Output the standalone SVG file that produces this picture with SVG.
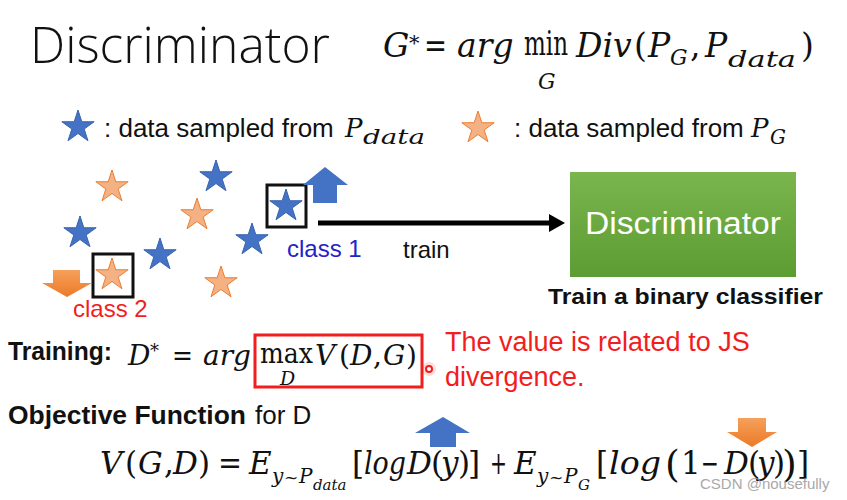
<svg xmlns="http://www.w3.org/2000/svg" width="847" height="500" viewBox="0 0 847 500">
<style>
.sans{font-family:"Liberation Sans",Arial,sans-serif;fill:#111}
.light{font-family:"Open Sans","Liberation Sans",Arial,sans-serif;font-weight:300;fill:#111}
.bold{font-family:"Liberation Sans",Arial,sans-serif;font-weight:bold;fill:#111}
.m{font-family:"DejaVu Serif","Liberation Serif",serif;fill:#111}
.i{font-style:italic}
.red{fill:#f21d1d}
.bstar{fill:#4472c4;stroke:#3863b0;stroke-width:1}
.ostar{fill:#f4b183;stroke:#ed7d31;stroke-width:1}
.box{fill:none;stroke:#111;stroke-width:3}
</style>
<defs>
<path id="star" d="M0,-17 L3.82,-5.26 L16.17,-5.25 L6.18,2.01 L9.99,13.75 L0,6.5 L-9.99,13.75 L-6.18,2.01 L-16.17,-5.25 L-3.82,-5.26 Z"/>
<linearGradient id="green" x1="0" y1="0" x2="0" y2="1">
<stop offset="0" stop-color="#7ab64d"/>
<stop offset="1" stop-color="#5c9c33"/>
</linearGradient>
<linearGradient id="orangeArrow" x1="0" y1="0" x2="0" y2="1">
<stop offset="0" stop-color="#f5a05a"/>
<stop offset="1" stop-color="#ec7a28"/>
</linearGradient>
</defs>
<rect width="847" height="500" fill="#fff"/>

<g id="title">
<text class="light" x="30" y="63" font-size="50" textLength="300" lengthAdjust="spacingAndGlyphs">Discriminator</text>
</g>

<g id="formula-g">
<text class="m" font-size="33" y="57"><tspan class="i" x="383">G</tspan><tspan x="409" y="50" font-size="21">*</tspan></text>
<text class="m" x="424" y="57" font-size="33" textLength="23" lengthAdjust="spacingAndGlyphs">=</text>
<text class="m i" x="457" y="57" font-size="33">arg</text>
<text class="m" x="524" y="55" font-size="33" textLength="44" lengthAdjust="spacingAndGlyphs">min</text>
<text class="m i" x="538" y="89" font-size="22">G</text>
<text class="m" font-size="33" y="57"><tspan class="i" x="576">Div</tspan><tspan x="634">(</tspan><tspan class="i" x="648">P</tspan><tspan class="i" x="670" y="65" font-size="22">G</tspan><tspan x="690" y="57">,</tspan><tspan class="i" x="705">P</tspan></text>
<text class="m i" x="728" y="67" font-size="23" textLength="68" lengthAdjust="spacingAndGlyphs">data</text>
<text class="m" x="801" y="57" font-size="33">)</text>
</g>

<g id="legend-data">
<use href="#star" class="bstar" x="78" y="127"/>
<text class="sans" x="104" y="137" font-size="26">: data sampled from</text>
<text class="m i" x="345" y="137" font-size="26">P</text>
<text class="m i" x="363" y="144" font-size="20" textLength="62" lengthAdjust="spacingAndGlyphs">data</text>
</g>

<g id="legend-g">
<use href="#star" class="ostar" x="478" y="128"/>
<text class="sans" x="514" y="137" font-size="26">: data sampled from</text>
<text class="m i" font-size="26" y="137"><tspan x="751">P</tspan><tspan x="770" y="144" font-size="20">G</tspan></text>
</g>

<g id="samples">
<use href="#star" class="ostar" x="112" y="187"/>
<use href="#star" class="bstar" x="216" y="177"/>
<use href="#star" class="ostar" x="197" y="215"/>
<use href="#star" class="bstar" x="80" y="233"/>
<use href="#star" class="bstar" x="160" y="255"/>
<use href="#star" class="bstar" x="252" y="240"/>
<use href="#star" class="ostar" x="221" y="283"/>
</g>

<g id="class1">
<use href="#star" class="bstar" x="286" y="206"/>
<rect class="box" x="267" y="185" width="39" height="42"/>
<polygon points="325,167 348,185 337,185 337,203 313,203 313,185 303,185" fill="#4472c4"/>
<text class="sans" x="287" y="257" font-size="24" style="fill:#2323c8">class 1</text>
</g>

<g id="class2">
<use href="#star" class="ostar" x="112" y="275"/>
<rect class="box" x="93" y="254" width="40" height="43"/>
<polygon points="53,270 80,270 80,283 92,283 67,297 42,283 53,283" fill="url(#orangeArrow)"/>
<text class="sans red" x="73" y="317" font-size="24">class 2</text>
</g>

<g id="connectors">
<line x1="318" y1="223" x2="552" y2="223" stroke="#000" stroke-width="5"/>
<polygon points="565,223 549,214 549,232" fill="#000"/>
<text class="sans" x="403" y="258" font-size="24">train</text>
</g>

<g id="discriminator">
<rect x="570" y="172" width="226" height="105" fill="url(#green)"/>
<text class="sans" x="683" y="234" font-size="31" text-anchor="middle" style="fill:#fff" textLength="196" lengthAdjust="spacingAndGlyphs">Discriminator</text>
<text class="bold" x="548" y="304" font-size="22.5" textLength="275" lengthAdjust="spacingAndGlyphs">Train a binary classifier</text>
</g>

<g id="training">
<text class="bold" x="8" y="360" font-size="25" textLength="104" lengthAdjust="spacingAndGlyphs">Training:</text>
<text class="m" font-size="28" y="365"><tspan class="i" x="128">D</tspan><tspan x="150" y="357" font-size="18">*</tspan></text>
<text class="m" x="172" y="365" font-size="28" textLength="21" lengthAdjust="spacingAndGlyphs">=</text>
<text class="m i" x="203" y="365" font-size="28" textLength="48" lengthAdjust="spacingAndGlyphs">arg</text>
<rect x="255" y="335" width="167" height="52" fill="none" stroke="#f21d1d" stroke-width="3"/>
<text class="m" x="260" y="363" font-size="28" textLength="53" lengthAdjust="spacingAndGlyphs">max</text>
<text class="m i" x="280" y="385" font-size="19">D</text>
<text class="m" font-size="28" y="365"><tspan class="i" x="315">V</tspan><tspan x="339">(</tspan><tspan class="i" x="350">D</tspan><tspan x="373">,</tspan><tspan class="i" x="383">G</tspan><tspan x="406">)</tspan></text>
<circle cx="429" cy="369" r="7" fill="#f21d1d" opacity="0.15"/>
<circle cx="429" cy="369" r="3" fill="#fff" stroke="#f21d1d" stroke-width="2"/>
<text class="sans red" x="445" y="351" font-size="27">The value is related to JS</text>
<text class="sans red" x="445" y="386" font-size="27">divergence.</text>
</g>

<g id="objective">
<text x="8" y="424" font-size="26"><tspan class="bold" textLength="238" lengthAdjust="spacingAndGlyphs">Objective Function</tspan><tspan class="sans" x="255">for D</tspan></text>
<polygon points="443,417 470,433 456,433 456,447 430,447 430,433 415,433" fill="#4472c4"/>
<polygon points="738,418 766,418 766,432 777,432 752,447 727,432 738,432" fill="url(#orangeArrow)"/>
</g>

<g id="formula-v">
<text class="m" font-size="31" y="474"><tspan class="i" x="100">V</tspan><tspan x="125">(</tspan><tspan class="i" x="138">G</tspan><tspan x="164">,</tspan><tspan class="i" x="173">D</tspan><tspan x="198">)</tspan></text>
<text class="m" x="218" y="474" font-size="31" textLength="24" lengthAdjust="spacingAndGlyphs">=</text>
<text class="m" font-size="31" y="474"><tspan class="i" x="249">E</tspan><tspan class="i" x="272" y="483" font-size="20">y</tspan><tspan x="284" y="483" font-size="17">~</tspan><tspan class="i" x="299" y="483" font-size="20">P</tspan><tspan class="i" x="313" y="490" font-size="15">data</tspan><tspan x="352" y="474">[</tspan></text>
<text class="m i" x="364" y="474" font-size="31" textLength="42" lengthAdjust="spacingAndGlyphs">log</text>
<text class="m" font-size="31" y="474"><tspan class="i" x="407">D</tspan><tspan x="431">(</tspan><tspan class="i" x="441">y</tspan><tspan x="458">)</tspan><tspan x="468">]</tspan></text>
<text class="m" x="490" y="474" font-size="31" textLength="17" lengthAdjust="spacingAndGlyphs">+</text>
<text class="m" font-size="31" y="474"><tspan class="i" x="514">E</tspan><tspan class="i" x="537" y="483" font-size="20">y</tspan><tspan x="549" y="483" font-size="17">~</tspan><tspan class="i" x="564" y="483" font-size="20">P</tspan><tspan class="i" x="578" y="490" font-size="15">G</tspan><tspan x="596" y="474">[</tspan></text>
<text class="m i" x="609" y="474" font-size="31" textLength="52" lengthAdjust="spacingAndGlyphs">log</text>
<text class="m" font-size="31" y="474"><tspan x="665" y="477" font-size="38">(</tspan><tspan x="681" y="474">1</tspan></text>
<text class="m" x="701" y="474" font-size="31" textLength="18" lengthAdjust="spacingAndGlyphs">−</text>
<text class="m" font-size="31" y="474"><tspan class="i" x="724">D</tspan><tspan x="748">(</tspan><tspan class="i" x="757">y</tspan><tspan x="773">)</tspan><tspan x="782" y="477" font-size="38">)</tspan><tspan x="797" y="474">]</tspan></text>
</g>

<text x="700" y="489" font-family="Liberation Sans, Arial, sans-serif" font-size="15" fill="#9a9a9a" opacity="0.85">CSDN @nousefully</text>
</svg>
